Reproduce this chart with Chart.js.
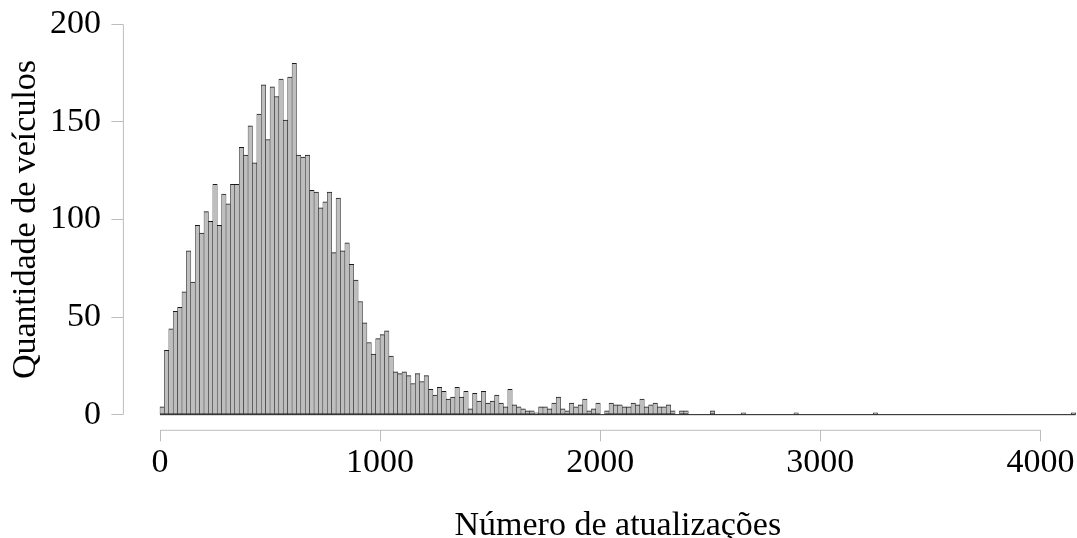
<!DOCTYPE html>
<html lang="pt-BR">
<head>
<meta charset="utf-8">
<title>Número de atualizações</title>
<script src="https://cdn.jsdelivr.net/npm/chart.js@4.4.1/dist/chart.umd.min.js"></script>
<style>
    html, body { margin: 0; padding: 0; background: #ffffff; }
    #box { width: 1077px; height: 538px; }
</style>
</head>
<body>
<div id="box"><canvas id="histograma"></canvas></div>
<script>
// largura de cada classe do histograma (atualizações)
const binWidth = 20;

// quantidade de veículos em cada classe: 0-20, 20-40, ..., 4140-4160
const counts = [
    4, 33, 44, 53, 55, 63, 84, 68, 97, 93,
    104, 99, 118, 97, 113, 108, 118, 118, 137, 133,
    148, 129, 154, 169, 141, 168, 163, 172, 151, 173,
    180, 133, 132, 133, 115, 114, 106, 109, 114, 83,
    111, 84, 88, 77, 69, 58, 47, 37, 31, 39,
    41, 43, 30, 22, 21, 22, 20, 16, 21, 17,
    20, 13, 10, 14, 12, 8, 9, 14, 9, 12,
    3, 11, 7, 12, 6, 7, 10, 6, 4, 13,
    5, 4, 3, 2, 2, 1, 4, 4, 3, 6,
    9, 3, 2, 6, 4, 5, 8, 2, 3, 6,
    0, 2, 6, 5, 5, 4, 4, 6, 5, 8,
    4, 5, 6, 4, 4, 5, 2, 0, 2, 2,
    0, 0, 0, 0, 0, 2, 0, 0, 0, 0,
    0, 0, 1, 0, 0, 0, 0, 0, 0, 0,
    0, 0, 0, 0, 1, 0, 0, 0, 0, 0,
    0, 0, 0, 0, 0, 0, 0, 0, 0, 0,
    0, 0, 1, 0, 0, 0, 0, 0, 0, 0,
    0, 0, 0, 0, 0, 0, 0, 0, 0, 0,
    0, 0, 0, 0, 0, 0, 0, 0, 0, 0,
    0, 0, 0, 0, 0, 0, 0, 0, 0, 0,
    0, 0, 0, 0, 0, 0, 0, 1
];

const xTicks = [0, 1000, 2000, 3000, 4000];
const yTicks = [0, 50, 100, 150, 200];

const xTitle = 'Número de atualizações';
const yTitle = 'Quantidade de veículos';

const fonte = { family: "'Liberation Serif', 'Times New Roman', serif", size: 34 };
const corEixo = '#bdbdbd';
const corBorda = '#1a1a1a';

// centro de cada classe no eixo x
const centros = counts.map((c, i) => i * binWidth + binWidth / 2);

// linhas dos eixos (só entre o primeiro e o último tick), base das barras e título do eixo x
const eixos = {
    id: 'eixos',
    afterDatasetsDraw(chart) {
        const { ctx, scales: { x, y } } = chart;
        // base do histograma, inclusive nas classes vazias
        ctx.save();
        ctx.strokeStyle = corBorda;
        ctx.lineWidth = 1;
        ctx.beginPath();
        ctx.moveTo(x.getPixelForValue(0), y.getPixelForValue(0));
        ctx.lineTo(x.getPixelForValue(counts.length * binWidth), y.getPixelForValue(0));
        ctx.stroke();
        ctx.restore();
    },
    afterDraw(chart) {
        const { ctx, chartArea, scales: { x, y } } = chart;
        ctx.save();
        ctx.strokeStyle = corEixo;
        ctx.lineWidth = 1;
        ctx.beginPath();
        ctx.moveTo(chartArea.left, y.getPixelForValue(yTicks[0]));
        ctx.lineTo(chartArea.left, y.getPixelForValue(yTicks[yTicks.length - 1]));
        ctx.moveTo(x.getPixelForValue(xTicks[0]), chartArea.bottom);
        ctx.lineTo(x.getPixelForValue(xTicks[xTicks.length - 1]), chartArea.bottom);
        ctx.stroke();

        // título centrado sob o intervalo das classes
        ctx.fillStyle = '#000000';
        ctx.font = fonte.size + 'px ' + fonte.family;
        ctx.textAlign = 'center';
        ctx.textBaseline = 'alphabetic';
        ctx.fillText(xTitle, x.getPixelForValue(counts.length * binWidth / 2), x.bottom - 3);
        ctx.restore();
    }
};

function draw_hist() {
    const ctx = document.getElementById('histograma').getContext('2d');

    const HistChart = new Chart(ctx, {
        type: 'bar',
        data: {
            datasets: [{
                label: yTitle,
                data: counts.map((c, i) => ({ x: centros[i], y: c })),
                backgroundColor: '#bebebe',
                borderColor: corBorda,
                borderWidth: { top: 1, bottom: 1, left: 0.5, right: 0.5 },
                borderSkipped: false,
                barPercentage: 1,
                categoryPercentage: 1
            }]
        },
        options: {
            responsive: true,
            maintainAspectRatio: false,
            animation: false,
            layout: {
                padding: { top: 8.7, left: 0, right: 0, bottom: 0 }
            },
            plugins: {
                legend: { display: false },
                tooltip: { enabled: false }
            },
            scales: {
                x: {
                    type: 'linear',
                    offset: false,
                    min: -166.3,
                    max: 4166,
                    afterBuildTicks: (scale) => {
                        scale.ticks = xTicks.map(v => ({ value: v }));
                    },
                    afterFit: (scale) => {
                        scale.height = 107.7;
                        scale.paddingLeft = 0;
                        scale.paddingRight = 0;
                    },
                    grid: {
                        offset: false,
                        drawOnChartArea: false,
                        drawTicks: true,
                        tickLength: 11,
                        color: corEixo
                    },
                    border: { display: false },
                    ticks: {
                        font: fonte,
                        color: '#000000',
                        padding: 1,
                        maxRotation: 0,
                        autoSkip: false,
                        callback: (v) => String(v)
                    }
                },
                y: {
                    min: -8,
                    max: 208,
                    afterBuildTicks: (scale) => {
                        scale.ticks = yTicks.map(v => ({ value: v }));
                    },
                    afterFit: (scale) => {
                        scale.width = 123.4;
                        scale.paddingTop = 0;
                        scale.paddingBottom = 0;
                    },
                    grid: {
                        drawOnChartArea: false,
                        drawTicks: true,
                        tickLength: 12,
                        color: corEixo
                    },
                    border: { display: false },
                    ticks: {
                        font: fonte,
                        color: '#000000',
                        padding: 10.5,
                        autoSkip: false,
                        callback: (v) => String(v)
                    },
                    title: {
                        display: true,
                        text: yTitle,
                        font: fonte,
                        color: '#000000',
                        padding: { top: 5.5, bottom: 0 }
                    }
                }
            }
        },
        plugins: [eixos]
    });
}

window.onload = function() {
    draw_hist();
}
</script>
</body>
</html>
